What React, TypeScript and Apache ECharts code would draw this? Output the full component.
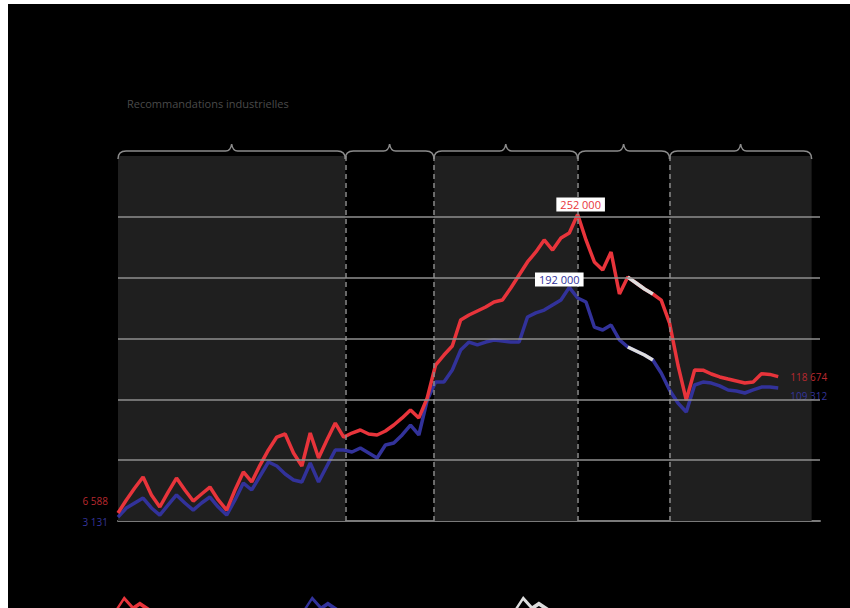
import React, { useEffect, useRef } from "react";
import * as echarts from "echarts";

const titleText = "Recommandations industrielles";
const seriesNames = ["Total", "Industrie", "Estimation"];

const redValues = [
  6588, 17300, 27100, 36200, 21400, 11500, 23800, 35300, 25500, 16400,
  22200, 27900, 17300, 9000, 25500, 40300, 32100, 46000, 58400, 69000,
  71500, 55900, 45200, 72300, 51800, 66600, 80500, 69000, 72300, 74800,
  71500, 70700, 74000, 78900, 84700, 91200, 84700, 101100, 128200, 136400,
  143800, 165200, 169300, 172600, 175900, 180000, 181600, 191500, 202200, 212900,
  221100, 231000, 222700, 232600, 236700, 252000, 231000, 212900, 206300, 221100,
  186600, 200500, 195600, 190700, 186600, 181600, 162700, 128200, 99400, 124100,
  124000, 120800, 118400, 116700, 115100, 113400, 114200, 121000, 120500, 118674,
];

const blueValues = [
  3131, 10700, 14800, 18900, 10700, 4900, 13200, 21400, 14800, 9000,
  14800, 19700, 11500, 4900, 17300, 31200, 25500, 37000, 48500, 45200,
  38600, 33700, 32100, 47700, 32100, 45200, 58400, 58400, 56700, 60000,
  55900, 51800, 62500, 64100, 70700, 78900, 70700, 99400, 114200, 114200,
  124100, 140500, 147100, 144700, 147100, 148800, 147900, 147100, 147100, 167700,
  171000, 173400, 177500, 181600, 192000, 183300, 180000, 159400, 157000, 161100,
  148800, 143000, 139700, 136400, 132300, 121600, 107700, 97000, 89600, 111800,
  114200, 113400, 111000, 107700, 106800, 105200, 107700, 110100, 110100, 109312,
];

const highlightRange = [61, 64];
const periods = [
  [0, 27.2],
  [27.2, 37.8],
  [37.8, 55],
  [55, 66],
  [66, 83],
];
const shadedPeriods = [true, false, true, false, true];
const gridValues = [50000, 100000, 150000, 200000, 250000];
const xMax = 84;
const yMax = 300000;

const RED = "#e8343b";
const BLUE = "#32329a";
const WHITE = "#dddddd";

const fmt = (v: number) =>
  Math.round(v)
    .toString()
    .replace(/\B(?=(\d{3})+(?!\d))/g, " ");

const zigzag =
  "path://M0 16 L9 2 L17 11 L23 7 L32 13 L32 17 L23 11 L17 15 L9 6 L0 20 Z";

export default function App() {
  const ref = useRef<HTMLDivElement>(null);

  useEffect(() => {
    if (!ref.current) return;
    const chart = echarts.init(ref.current, null, { renderer: "svg" });

    const toXY = (arr: number[]) => arr.map((v, i) => [i, v]);
    const highlight = (arr: number[]) =>
      arr.map((v, i) => [i, i >= highlightRange[0] && i <= highlightRange[1] ? v : null]);

    const bandAreas = periods
      .filter((_, i) => shadedPeriods[i])
      .map((p) => [{ xAxis: p[0] }, { xAxis: p[1] }]);
    const dashed = periods.slice(1).map((p) => ({
      xAxis: p[0],
      lineStyle: { color: "#8a8a8a", type: [5, 4], width: 1.5 },
    }));
    const hLines = gridValues.map((v) => ({
      yAxis: v,
      lineStyle: { color: "#8f8f8f", type: "solid", width: 1.5 },
    }));

    const legendBase = {
      icon: zigzag,
      itemWidth: 36,
      itemHeight: 22,
      top: 586,
      formatter: () => "",
      textStyle: { color: "#888", fontSize: 12 },
    };

    const option: any = {
      animation: false,
      backgroundColor: "#000",
      title: {
        text: titleText,
        left: 114,
        top: 89,
        textStyle: {
          color: "#4a4a4a",
          fontSize: 11,
          fontWeight: "normal",
          fontFamily: "Open Sans",
        },
      },
      legend: [
        { ...legendBase, data: [seriesNames[0]], left: 101 },
        { ...legendBase, data: [seriesNames[1]], left: 289 },
        { ...legendBase, data: [seriesNames[2]], left: 500 },
      ],
      grid: { left: 110, right: 30, top: 152, bottom: 87 },
      xAxis: {
        type: "value",
        min: 0,
        max: xMax,
        axisLine: { show: true, lineStyle: { color: "#7a7a7a", width: 2 } },
        axisTick: { show: false },
        axisLabel: { show: false },
        splitLine: { show: false },
      },
      yAxis: {
        type: "value",
        min: 0,
        max: yMax,
        axisLine: { show: false },
        axisTick: { show: false },
        axisLabel: { show: false },
        splitLine: { show: false },
      },
      series: [
        {
          type: "custom",
          z: 1,
          clip: false,
          silent: true,
          data: periods,
          renderItem: (params: any, api: any) => {
            const a = api.coord([api.value(0), yMax]);
            const b = api.coord([api.value(1), yMax]);
            const x0 = a[0];
            const x1 = b[0];
            const y = a[1];
            const xm = (x0 + x1) / 2;
            const d =
              `M${x0} ${y + 3} Q${x0} ${y - 5} ${x0 + 8} ${y - 5} ` +
              `L${xm - 6} ${y - 5} Q${xm - 1} ${y - 5} ${xm} ${y - 12} ` +
              `Q${xm + 1} ${y - 5} ${xm + 6} ${y - 5} ` +
              `L${x1 - 8} ${y - 5} Q${x1} ${y - 5} ${x1} ${y + 3}`;
            return {
              type: "path",
              shape: { pathData: d },
              style: { stroke: "#8c8c8c", fill: "none", lineWidth: 1.5 },
            };
          },
          markArea: {
            silent: true,
            itemStyle: { color: "#1f1f1f" },
            data: bandAreas,
          },
          markLine: {
            silent: true,
            symbol: "none",
            label: { show: false },
            data: [...dashed, ...hLines],
          },
        },
        {
          name: seriesNames[1],
          type: "line",
          z: 2,
          data: toXY(blueValues),
          symbol: "none",
          color: BLUE,
          lineStyle: { color: BLUE, width: 3.5 },
          endLabel: {
            show: true,
            formatter: (p: any) => fmt(p.value[1]),
            color: "#34349a",
            fontSize: 10,
            fontFamily: "Open Sans",
            offset: [4, 8],
          },
          markPoint: {
            symbol: "circle",
            symbolSize: 0,
            data: [
              {
                type: "max",
                label: {
                  show: true,
                  position: "top",
                  distance: 1,
                  offset: [-10, 0],
                  formatter: (p: any) => fmt(p.value),
                  color: BLUE,
                  backgroundColor: "#fff",
                  padding: [2, 4, 1, 4],
                  fontSize: 11,
                  fontFamily: "Open Sans",
                },
              },
              {
                coord: [0, blueValues[0]],
                value: blueValues[0],
                label: {
                  show: true,
                  position: "left",
                  distance: 10,
                  offset: [0, 5],
                  formatter: (p: any) => fmt(p.value),
                  color: "#34349a",
                  fontSize: 10,
                  fontFamily: "Open Sans",
                },
              },
            ],
          },
        },
        {
          name: seriesNames[0],
          type: "line",
          z: 3,
          data: toXY(redValues),
          symbol: "none",
          color: RED,
          lineStyle: { color: RED, width: 3.5 },
          endLabel: {
            show: true,
            formatter: (p: any) => fmt(p.value[1]),
            color: "#b8292f",
            fontSize: 10,
            fontFamily: "Open Sans",
            offset: [4, 0],
          },
          markPoint: {
            symbol: "circle",
            symbolSize: 0,
            data: [
              {
                type: "max",
                label: {
                  show: true,
                  position: "top",
                  distance: 3,
                  offset: [3, 0],
                  formatter: (p: any) => fmt(p.value),
                  color: RED,
                  backgroundColor: "#fff",
                  padding: [2, 4, 1, 4],
                  fontSize: 11,
                  fontFamily: "Open Sans",
                },
              },
              {
                coord: [0, redValues[0]],
                value: redValues[0],
                label: {
                  show: true,
                  position: "left",
                  distance: 10,
                  offset: [0, -12],
                  formatter: (p: any) => fmt(p.value),
                  color: "#b8292f",
                  fontSize: 10,
                  fontFamily: "Open Sans",
                },
              },
            ],
          },
        },
        {
          name: seriesNames[2],
          type: "line",
          z: 4,
          data: highlight(redValues),
          symbol: "none",
          color: WHITE,
          lineStyle: { color: WHITE, width: 3.5 },
        },
        {
          name: seriesNames[2],
          type: "line",
          z: 4,
          data: highlight(blueValues),
          symbol: "none",
          color: WHITE,
          lineStyle: { color: WHITE, width: 3.5 },
        },
      ],
    };

    chart.setOption(option);
    return () => chart.dispose();
  }, []);

  return (
    <div
      ref={ref}
      style={{
        position: "absolute",
        left: 8,
        top: 4,
        width: 842,
        height: 604,
        background: "#000",
      }}
    />
  );
}
